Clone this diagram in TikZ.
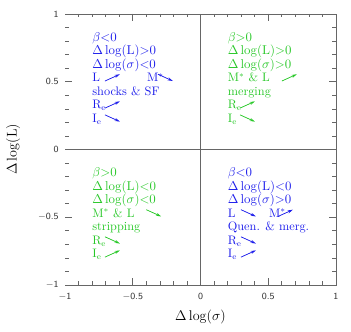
\documentclass[tikz,border=0pt]{standalone}
\definecolor{qblue}{RGB}{30, 30, 235}
\definecolor{qgreen}{RGB}{40, 200, 40}
\usepackage{tikz}
\usetikzlibrary{arrows.meta, positioning, calc}
\usepackage{amsmath, amssymb}

\begin{document}
\begin{tikzpicture}[
  x=4.065cm, y=4.065cm,
  axline/.style={draw=black!60, line width=0.5pt},
  qtext/.style={anchor=base west, inner sep=0pt, font=\fontsize{10.5}{12}\selectfont},
  ticklab/.style={inner sep=0pt, font=\sffamily\fontsize{8}{9}\selectfont, text=black!80},
  axlab/.style={inner sep=0pt, font=\fontsize{12.5}{14}\selectfont},
  trend/.style={line width=0.6pt, -{Stealth[length=4.5pt, width=2.6pt]}}
]
  \useasboundingbox (-1.480, -1.347) rectangle (1.111, 1.103);

  % frame (left side left open) and zero lines
  \draw[axline] (-1, 1) -- (1, 1) -- (1, -1) -- (-1, -1);
  \draw[axline] (0, -1) -- (0, 1);
  \draw[axline] (-1, 0) -- (1, 0);

  % ticks
  \foreach \v in {-0.9, -0.8, ..., 0.95} {
    \draw[axline] (\v, -1) -- ++(0, 0.026);
    \draw[axline] (\v, 1) -- ++(0, -0.026);
    \draw[axline] (-1, \v) -- ++(0.026, 0);
    \draw[axline] (1, \v) -- ++(-0.026, 0);
  }
  \foreach \v in {-0.5, 0.5} {
    \draw[axline] (\v, -1) -- ++(0, 0.052);
    \draw[axline] (\v, 1) -- ++(0, -0.052);
    \draw[axline] (-1, \v) -- ++(0.052, 0);
    \draw[axline] (1, \v) -- ++(-0.052, 0);
  }

  % tick labels
  \foreach \v/\t in {-1/$-$1, -0.5/$-$0.5, 0/0, 0.5/0.5, 1/1} {
    \node[ticklab, anchor=center] (xt\t) at (\v, -1.088) {\t};
    \node[ticklab, anchor=east] (yt\t) at (-1.045, \v) {\t};
  }

  % axis labels
  \node[axlab] (xlab) at (0, -1.236) {$\Delta\log(\sigma)$};
  \node[axlab, rotate=90] (ylab) at (-1.384, 0) {$\Delta\log(\mathrm{L})$};

  % quadrant texts
  \foreach \t [count=\i] in {$\beta{<}0$, $\Delta\log(\mathrm{L}){>}0$, $\Delta\log(\sigma){<}0$,
      L, shocks \& SF, R$_\mathrm{e}$, I$_\mathrm{e}$}
    \node[qtext, text=qblue] (tl\i) at (-0.80, {0.90-0.1*\i}) {\t};
  \node[qtext, text=qblue] (tlM) at (-0.395, 0.50) {M$^*$};

  \foreach \t [count=\i] in {$\beta{>}0$, $\Delta\log(\mathrm{L}){>}0$, $\Delta\log(\sigma){>}0$,
      M$^*$ \& L, merging, R$_\mathrm{e}$, I$_\mathrm{e}$}
    \node[qtext, text=qgreen] (tr\i) at (0.20, {0.90-0.1*\i}) {\t};

  \foreach \t [count=\i] in {$\beta{>}0$, $\Delta\log(\mathrm{L}){<}0$, $\Delta\log(\sigma){<}0$,
      M$^*$ \& L, stripping, R$_\mathrm{e}$, I$_\mathrm{e}$}
    \node[qtext, text=qgreen] (bl\i) at (-0.80, {-0.10-0.1*\i}) {\t};

  \foreach \t [count=\i] in {$\beta{<}0$, $\Delta\log(\mathrm{L}){<}0$, $\Delta\log(\sigma){>}0$,
      L, Quen. \& merg., R$_\mathrm{e}$, I$_\mathrm{e}$}
    \node[qtext, text=qblue] (br\i) at (0.20, {-0.10-0.1*\i}) {\t};
  \node[qtext, text=qblue] (brM) at (0.505, -0.50) {M$^*$};

  % trend arrows: name / start x / row / up(1) or down(-1) / colour
  \foreach \n/\x/\y/\d/\c in {tlL/-0.705/0.53/1/qblue, tlM/-0.314/0.53/-1/qblue,
      tlR/-0.705/0.33/1/qblue, tlI/-0.705/0.23/-1/qblue,
      trM/0.601/0.53/1/qgreen, trR/0.292/0.33/1/qgreen, trI/0.292/0.23/-1/qgreen,
      blM/-0.400/-0.47/-1/qgreen, blR/-0.705/-0.67/-1/qgreen, blI/-0.705/-0.77/1/qgreen,
      brL/0.299/-0.47/-1/qblue, brM/0.572/-0.47/1/qblue,
      brR/0.299/-0.67/-1/qblue, brI/0.299/-0.77/1/qblue} {
    \coordinate (\n-s) at (\x, {\y-0.025*\d});
    \coordinate (\n-e) at ({\x+0.11}, {\y+0.025*\d});
    \draw[trend, draw=\c, fill=\c] (\n-s) -- (\n-e);
  }
\end{tikzpicture}
\end{document}
